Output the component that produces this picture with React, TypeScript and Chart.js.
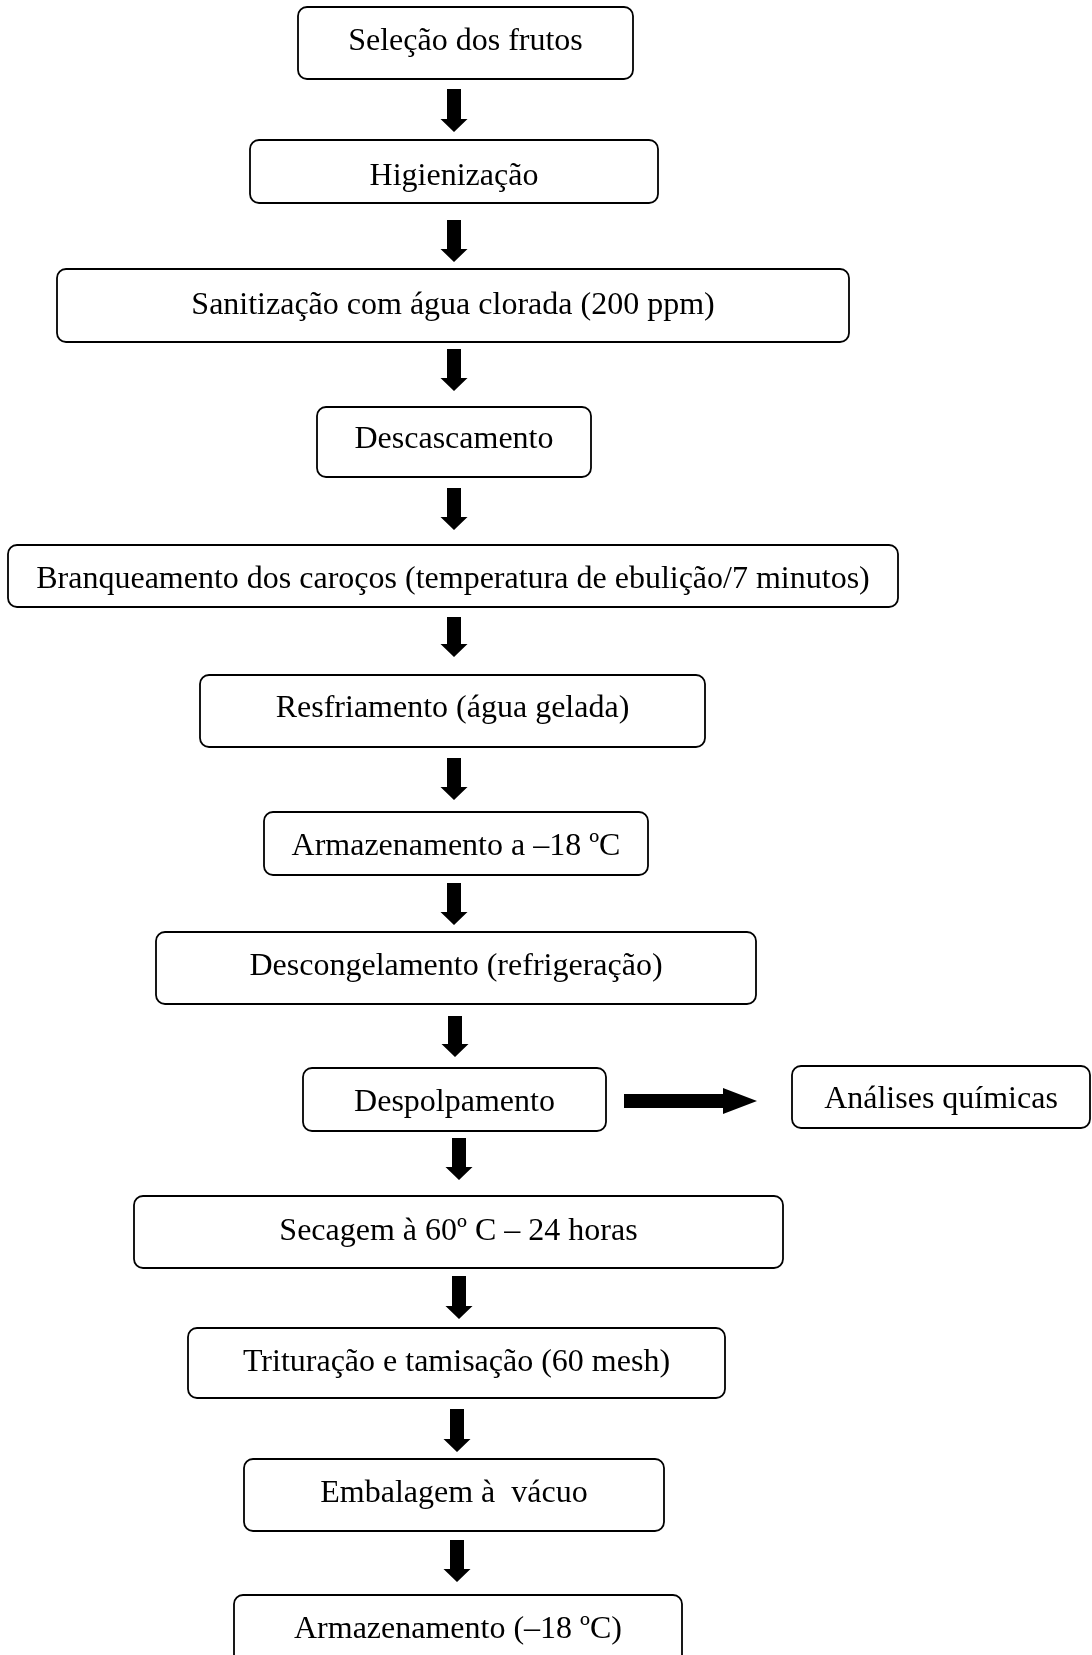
import React, { useEffect, useRef } from "react";
import { Chart, registerables } from "chart.js";

Chart.register(...registerables);

// Flowchart steps (text) and their box extents in page units
const stepLabels = [
  "Seleção dos frutos",
  "Higienização",
  "Sanitização com água clorada (200 ppm)",
  "Descascamento",
  "Branqueamento dos caroços (temperatura de ebulição/7 minutos)",
  "Resfriamento (água gelada)",
  "Armazenamento a –18 ºC",
  "Descongelamento (refrigeração)",
  "Despolpamento",
  "Análises químicas",
  "Secagem à 60º C – 24 horas",
  "Trituração e tamisação (60 mesh)",
  "Embalagem à  vácuo",
  "Armazenamento (–18 ºC)",
];
const boxLeft = [298, 250, 57, 317, 8, 200, 264, 156, 303, 792, 134, 188, 244, 234];
const boxRight = [633, 658, 849, 591, 898, 705, 648, 756, 606, 1090, 783, 725, 664, 682];
const boxTop = [7, 140, 269, 407, 545, 675, 812, 932, 1068, 1066, 1196, 1328, 1459, 1595];
const boxBottom = [79, 203, 342, 477, 607, 747, 875, 1004, 1131, 1128, 1268, 1398, 1531, 1680];
const labelY = [42, 177, 306, 440, 580, 709, 847, 967, 1103, 1100, 1232, 1363, 1494, 1630];

// Downward arrows: x, start, tip
const arrowX = [454, 454, 454, 454, 454, 454, 454, 455, 459, 459, 457, 457];
const arrowStart = [89, 220, 349, 488, 617, 758, 883, 1016, 1138, 1276, 1409, 1540];
const arrowTip = [132, 262, 391, 530, 657, 800, 925, 1057, 1180, 1319, 1452, 1582];

// Side arrow (Despolpamento -> Análises químicas): start x, tip x, y
const sideArrowStart = [624];
const sideArrowTip = [757];
const sideArrowY = [1101];

const flowPlugin = {
  id: "flowchart",
  afterDatasetsDraw(chart: any) {
    const { ctx } = chart;
    const xs = chart.scales.x;
    const ys = chart.scales.y;
    ctx.save();
    ctx.strokeStyle = "#000";
    ctx.fillStyle = "#000";
    ctx.lineWidth = 1.8;
    ctx.font = '32px "Liberation Serif", "Times New Roman", serif';
    ctx.textAlign = "center";
    ctx.textBaseline = "middle";
    for (let i = 0; i < stepLabels.length; i++) {
      const l = xs.getPixelForValue(boxLeft[i]);
      const r = xs.getPixelForValue(boxRight[i]);
      const t = ys.getPixelForValue(boxTop[i]);
      const b = ys.getPixelForValue(boxBottom[i]);
      ctx.beginPath();
      ctx.roundRect(l, t, r - l, b - t, 9);
      ctx.stroke();
      ctx.fillText(stepLabels[i], (l + r) / 2, ys.getPixelForValue(labelY[i]));
    }
    // vertical arrows
    const shaftHalf = 7;
    const headHalf = 13.5;
    const headLen = 13;
    for (let i = 0; i < arrowX.length; i++) {
      const cx = xs.getPixelForValue(arrowX[i]);
      const y0 = ys.getPixelForValue(arrowStart[i]);
      const y1 = ys.getPixelForValue(arrowTip[i]);
      const yb = y1 - headLen;
      ctx.beginPath();
      ctx.moveTo(cx - shaftHalf, y0);
      ctx.lineTo(cx + shaftHalf, y0);
      ctx.lineTo(cx + shaftHalf, yb);
      ctx.lineTo(cx + headHalf, yb);
      ctx.lineTo(cx, y1);
      ctx.lineTo(cx - headHalf, yb);
      ctx.lineTo(cx - shaftHalf, yb);
      ctx.closePath();
      ctx.fill();
    }
    // horizontal arrow
    for (let i = 0; i < sideArrowStart.length; i++) {
      const x0 = xs.getPixelForValue(sideArrowStart[i]);
      const x1 = xs.getPixelForValue(sideArrowTip[i]);
      const cy = ys.getPixelForValue(sideArrowY[i]);
      const xb = x1 - 34;
      const sh = 7;
      const hh = 13;
      ctx.beginPath();
      ctx.moveTo(x0, cy - sh);
      ctx.lineTo(xb, cy - sh);
      ctx.lineTo(xb, cy - hh);
      ctx.lineTo(x1, cy);
      ctx.lineTo(xb, cy + hh);
      ctx.lineTo(xb, cy + sh);
      ctx.lineTo(x0, cy + sh);
      ctx.closePath();
      ctx.fill();
    }
    ctx.restore();
  },
};

export default function App() {
  const ref = useRef<HTMLCanvasElement | null>(null);
  useEffect(() => {
    if (!ref.current) return;
    const chart = new Chart(ref.current, {
      type: "scatter",
      data: {
        datasets: [
          {
            data: stepLabels.map((_, i) => ({
              x: (boxLeft[i] + boxRight[i]) / 2,
              y: (boxTop[i] + boxBottom[i]) / 2,
            })),
            pointRadius: 0,
            pointHoverRadius: 0,
          },
        ],
      },
      options: {
        animation: false,
        responsive: false,
        devicePixelRatio: 1,
        layout: { padding: 0 },
        events: [],
        plugins: { legend: { display: false }, tooltip: { enabled: false } },
        scales: {
          x: { type: "linear", min: 0, max: 1092, display: false },
          y: { type: "linear", min: 0, max: 1655, reverse: true, display: false },
        },
      },
      plugins: [flowPlugin],
    });
    return () => chart.destroy();
  }, []);
  return (
    <div style={{ position: "absolute", left: 0, top: 0, width: 1092, height: 1655, background: "#fff" }}>
      <canvas ref={ref} width={1092} height={1655} style={{ display: "block" }} />
    </div>
  );
}
